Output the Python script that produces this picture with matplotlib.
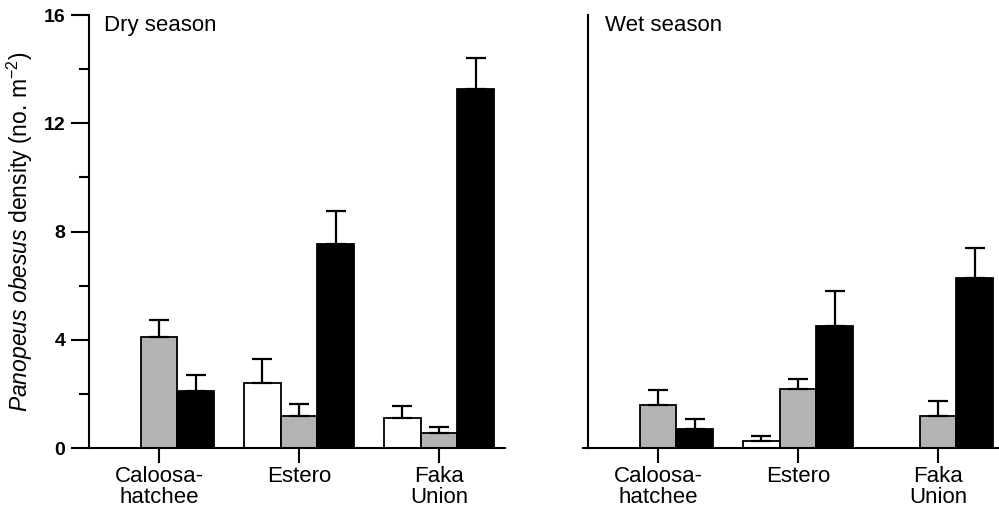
import numpy as np
import matplotlib.pyplot as plt
from matplotlib.ticker import MultipleLocator

plt.rcParams['font.family'] = ['Liberation Sans', 'DejaVu Sans']
plt.rcParams['mathtext.fontset'] = 'custom'
plt.rcParams['mathtext.rm'] = 'Liberation Sans'
plt.rcParams['mathtext.it'] = 'Liberation Sans:italic'

# sites on the x axis
sites = ["Caloosa-\nhatchee", "Estero", "Faka\nUnion"]

# dry season means and upper error (SE) per treatment colour
dry_white = [np.nan, 2.42, 1.11]
dry_white_err = [np.nan, 0.87, 0.45]
dry_gray = [4.10, 1.20, 0.55]
dry_gray_err = [0.64, 0.45, 0.25]
dry_black = [2.12, 7.56, 13.26]
dry_black_err = [0.58, 1.21, 1.15]

# wet season
wet_white = [np.nan, 0.28, np.nan]
wet_white_err = [np.nan, 0.19, np.nan]
wet_gray = [1.59, 2.18, 1.20]
wet_gray_err = [0.56, 0.38, 0.54]
wet_black = [0.72, 4.53, 6.29]
wet_black_err = [0.35, 1.29, 1.11]

colors = ["white", "#b3b3b3", "black"]
w = 0.262

fig = plt.figure(figsize=(9.99, 5.14), dpi=100)
ax1 = fig.add_axes([89/999, 0.1278, 416/999, 0.843])
ax2 = fig.add_axes([588/999, 0.1278, 411/999, 0.843])


def draw(ax, series, errs, title, title_x):
    x = np.arange(len(sites))
    for i, (vals, err) in enumerate(zip(series, errs)):
        vals = np.array(vals, dtype=float)
        err = np.array(err, dtype=float)
        ok = ~np.isnan(vals)
        xs = x[ok] + (i - 1) * w
        ax.bar(xs, vals[ok], width=w, color=colors[i], edgecolor="black",
               linewidth=1.3, zorder=2)
        ax.errorbar(xs, vals[ok], yerr=[np.zeros(ok.sum()), err[ok]], fmt="none",
                    ecolor="black", elinewidth=1.6, capsize=7, capthick=1.6, zorder=3)
    ax.set_ylim(0, 16)
    ax.set_xticks(x)
    ax.set_xticklabels(sites, fontsize=16, linespacing=1.0)
    ax.tick_params(axis="x", direction="out", length=11, width=1.5, pad=2)
    for s in ["top", "right"]:
        ax.spines[s].set_visible(False)
    for s in ["left", "bottom"]:
        ax.spines[s].set_linewidth(1.5)
    ax.text(title_x, 1.0, title, transform=ax.transAxes, fontsize=16,
            va="top", ha="left")


draw(ax1, [dry_white, dry_gray, dry_black], [dry_white_err, dry_gray_err, dry_black_err],
     "Dry season", 15/416)
ax1.set_xlim(-0.5, -0.5 + 416/140)
ax1.yaxis.set_major_locator(MultipleLocator(4))
ax1.yaxis.set_minor_locator(MultipleLocator(2))
ax1.tick_params(axis="y", which="major", direction="out", length=13, width=1.5, pad=4,
                labelsize=14)
ax1.tick_params(axis="y", which="minor", direction="out", length=7, width=1.5)
for lab in ax1.get_yticklabels():
    lab.set_fontweight("bold")
ax1.set_ylabel(r"$\it{Panopeus\ obesus}$ density (no. m$^{-2}$)", fontsize=16.5, labelpad=6)

draw(ax2, [wet_white, wet_gray, wet_black], [wet_white_err, wet_gray_err, wet_black_err],
     "Wet season", 17/411)
ax2.set_xlim(-0.5, -0.5 + 411/140)
ax2.set_yticks([0])
ax2.set_yticklabels([])
ax2.tick_params(axis="y", direction="out", length=4, width=1.5)

fig.savefig("out.png", dpi=100)
